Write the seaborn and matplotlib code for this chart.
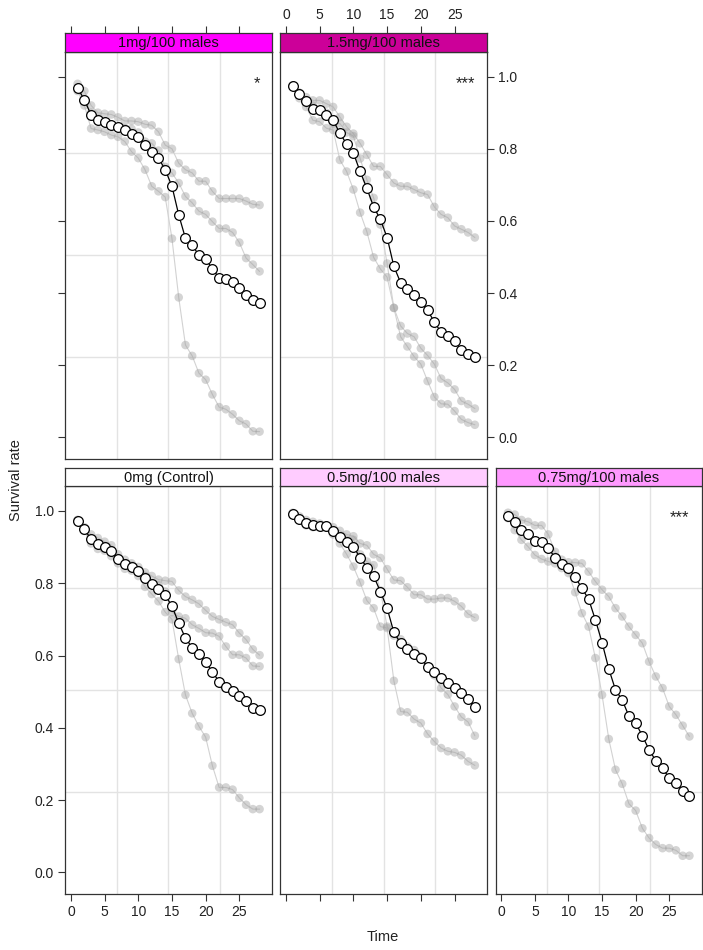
import numpy as np
import pandas as pd
import matplotlib
matplotlib.use('Agg')
import matplotlib.pyplot as plt
import seaborn as sns

sns.set_style('white')
plt.rcParams['font.family'] = ['Liberation Sans', 'DejaVu Sans']

time = list(range(1, 29))

# mean survival per treatment (white circles)
mean_0mg = [0.973, 0.949, 0.922, 0.909, 0.900, 0.889, 0.868, 0.853, 0.846, 0.834,
            0.814, 0.798, 0.784, 0.768, 0.736, 0.690, 0.648, 0.622, 0.604, 0.583,
            0.554, 0.528, 0.514, 0.502, 0.487, 0.473, 0.455, 0.448]
mean_05mg = [0.991, 0.978, 0.966, 0.961, 0.959, 0.959, 0.945, 0.929, 0.915, 0.901,
             0.871, 0.843, 0.820, 0.777, 0.731, 0.664, 0.634, 0.618, 0.605, 0.593,
             0.568, 0.554, 0.537, 0.525, 0.511, 0.496, 0.479, 0.457]
mean_075mg = [0.986, 0.970, 0.947, 0.936, 0.918, 0.913, 0.897, 0.871, 0.853, 0.842,
              0.817, 0.786, 0.756, 0.699, 0.636, 0.563, 0.505, 0.477, 0.432, 0.413,
              0.378, 0.339, 0.309, 0.288, 0.261, 0.247, 0.225, 0.210]
mean_1mg = [0.968, 0.936, 0.893, 0.879, 0.873, 0.865, 0.859, 0.852, 0.842, 0.832,
            0.810, 0.792, 0.774, 0.742, 0.696, 0.617, 0.552, 0.533, 0.505, 0.495,
            0.467, 0.442, 0.440, 0.431, 0.414, 0.394, 0.380, 0.373]
mean_15mg = [0.975, 0.951, 0.931, 0.911, 0.907, 0.893, 0.879, 0.843, 0.813, 0.788,
             0.737, 0.690, 0.639, 0.604, 0.554, 0.474, 0.429, 0.412, 0.396, 0.375,
             0.352, 0.320, 0.291, 0.282, 0.266, 0.243, 0.231, 0.223]

# replicate survival (grey points)
reps_0mg = [
    [0.975, 0.955, 0.935, 0.925, 0.915, 0.905, 0.880, 0.865, 0.855, 0.845,
     0.830, 0.820, 0.810, 0.807, 0.805, 0.780, 0.763, 0.754, 0.743, 0.725,
     0.708, 0.700, 0.692, 0.685, 0.662, 0.644, 0.617, 0.601],
    [0.970, 0.945, 0.920, 0.905, 0.895, 0.885, 0.870, 0.855, 0.850, 0.835,
     0.820, 0.800, 0.795, 0.777, 0.720, 0.708, 0.703, 0.685, 0.675, 0.663,
     0.662, 0.653, 0.625, 0.602, 0.602, 0.593, 0.571, 0.570],
    [0.975, 0.945, 0.910, 0.895, 0.890, 0.875, 0.855, 0.840, 0.835, 0.820,
     0.790, 0.770, 0.750, 0.720, 0.700, 0.590, 0.491, 0.440, 0.404, 0.374,
     0.295, 0.235, 0.235, 0.229, 0.206, 0.187, 0.175, 0.175],
]
reps_05mg = [
    [0.995, 0.985, 0.975, 0.970, 0.965, 0.960, 0.955, 0.945, 0.935, 0.930,
     0.910, 0.905, 0.880, 0.870, 0.839, 0.809, 0.807, 0.789, 0.768, 0.768,
     0.756, 0.756, 0.759, 0.759, 0.750, 0.736, 0.715, 0.705],
    [0.990, 0.975, 0.965, 0.960, 0.955, 0.955, 0.945, 0.930, 0.920, 0.920,
     0.880, 0.860, 0.850, 0.780, 0.680, 0.655, 0.645, 0.625, 0.615, 0.598,
     0.570, 0.545, 0.510, 0.492, 0.459, 0.430, 0.416, 0.378],
    [0.990, 0.975, 0.960, 0.955, 0.955, 0.955, 0.935, 0.910, 0.880, 0.846,
     0.802, 0.752, 0.731, 0.680, 0.676, 0.530, 0.445, 0.443, 0.424, 0.413,
     0.383, 0.362, 0.344, 0.335, 0.332, 0.324, 0.307, 0.296],
]
reps_075mg = [
    [0.995, 0.990, 0.975, 0.970, 0.960, 0.960, 0.935, 0.887, 0.865, 0.858,
     0.857, 0.855, 0.832, 0.805, 0.782, 0.763, 0.731, 0.708, 0.680, 0.657,
     0.634, 0.583, 0.542, 0.510, 0.459, 0.436, 0.406, 0.376],
    [0.980, 0.947, 0.920, 0.901, 0.878, 0.867, 0.860, 0.855, 0.842, 0.828,
     0.775, 0.717, 0.680, 0.593, 0.491, 0.369, 0.284, 0.245, 0.190, 0.171,
     0.122, 0.095, 0.077, 0.067, 0.067, 0.061, 0.046, 0.046],
]
reps_1mg = [
    [0.980, 0.960, 0.920, 0.900, 0.897, 0.895, 0.887, 0.877, 0.877, 0.875,
     0.868, 0.865, 0.847, 0.810, 0.800, 0.760, 0.742, 0.733, 0.710, 0.710,
     0.682, 0.662, 0.662, 0.662, 0.662, 0.655, 0.646, 0.644],
    [0.965, 0.930, 0.900, 0.885, 0.875, 0.865, 0.857, 0.857, 0.855, 0.845,
     0.820, 0.815, 0.795, 0.750, 0.733, 0.705, 0.668, 0.650, 0.627, 0.618,
     0.598, 0.579, 0.579, 0.568, 0.540, 0.497, 0.479, 0.460],
    [0.960, 0.920, 0.856, 0.852, 0.847, 0.838, 0.833, 0.820, 0.792, 0.774,
     0.742, 0.696, 0.682, 0.666, 0.551, 0.388, 0.256, 0.226, 0.178, 0.160,
     0.119, 0.084, 0.078, 0.064, 0.046, 0.037, 0.017, 0.016],
]
reps_15mg = [
    [0.975, 0.955, 0.943, 0.934, 0.934, 0.925, 0.916, 0.888, 0.861, 0.842,
     0.815, 0.783, 0.751, 0.751, 0.728, 0.705, 0.696, 0.696, 0.687, 0.678,
     0.673, 0.639, 0.618, 0.609, 0.586, 0.577, 0.568, 0.554],
    [0.975, 0.940, 0.916, 0.879, 0.875, 0.857, 0.852, 0.769, 0.737, 0.687,
     0.623, 0.570, 0.499, 0.467, 0.444, 0.359, 0.309, 0.288, 0.279, 0.247,
     0.227, 0.203, 0.163, 0.151, 0.133, 0.101, 0.092, 0.080],
    [0.975, 0.955, 0.935, 0.920, 0.905, 0.900, 0.870, 0.870, 0.845, 0.835,
     0.773, 0.714, 0.664, 0.590, 0.482, 0.359, 0.279, 0.252, 0.224, 0.203,
     0.156, 0.112, 0.093, 0.092, 0.073, 0.050, 0.041, 0.035],
]

W, H = 703, 950
fig = plt.figure(figsize=(W / 100, H / 100), dpi=100)

XLIM = (-0.83, 29.8)
YLIM = (-0.059, 1.069)
cols = [(65.3, 271.7), (280.3, 487.0), (495.7, 701.5)]
rows = [(33.3, 51.7, 458.7), (468.3, 486.0, 893.7)]  # strip top, data top, data bottom

# title, mean, reps, strip colour, stars, row, col
panels = [
    ('1mg/100 males', mean_1mg, reps_1mg, '#ff00ff', '*', 0, 0),
    ('1.5mg/100 males', mean_15mg, reps_15mg, '#cc0099', '***', 0, 1),
    ('0mg (Control)', mean_0mg, reps_0mg, '#ffffff', '', 1, 0),
    ('0.5mg/100 males', mean_05mg, reps_05mg, '#ffccff', '', 1, 1),
    ('0.75mg/100 males', mean_075mg, reps_075mg, '#ff99ff', '***', 1, 2),
]

edge = '#333333'


def frac(x0, x1, ytop, ybot):
    return [x0 / W, 1 - ybot / H, (x1 - x0) / W, (ybot - ytop) / H]


for title, mean, reps, scol, star, r, c in panels:
    x0, x1 = cols[c]
    st, dt, db = rows[r]
    ax = fig.add_axes(frac(x0, x1, dt, db))
    sax = fig.add_axes(frac(x0, x1, st, dt))

    rows_ = []
    for i, rep in enumerate(reps):
        for t, s in zip(time, rep):
            rows_.append((t, s, i))
    rep_df = pd.DataFrame(rows_, columns=['time', 'survival', 'rep'])

    # reference lines at quarter points of the panel
    for q in (0.25, 0.5, 0.75):
        ax.axvline(XLIM[0] + q * (XLIM[1] - XLIM[0]), color='#e3e3e3', lw=1, zorder=0)
        ax.axhline(YLIM[0] + q * (YLIM[1] - YLIM[0]), color='#e3e3e3', lw=1, zorder=0)

    sns.lineplot(data=rep_df, x='time', y='survival', units='rep', estimator=None,
                 color='#d2d2d2', lw=0.8, ax=ax, legend=False, zorder=1)
    sns.scatterplot(data=rep_df, x='time', y='survival', color='#a0a0a0', alpha=0.45,
                    s=38, edgecolor='none', ax=ax, legend=False, zorder=2)
    sns.lineplot(x=time, y=mean, color='black', lw=0.9, marker='o', markersize=7,
                 markerfacecolor='white', markeredgecolor='black', markeredgewidth=0.9,
                 ax=ax, zorder=3)

    ax.set_xlim(XLIM)
    ax.set_ylim(YLIM)
    ax.set_xlabel('')
    ax.set_ylabel('')
    ax.set_xticks(range(0, 30, 5))
    ax.set_yticks([0, 0.2, 0.4, 0.6, 0.8, 1.0])
    ax.set_yticklabels(['0.0', '0.2', '0.4', '0.6', '0.8', '1.0'])
    for sp in ax.spines.values():
        sp.set_color(edge)
        sp.set_linewidth(0.9)
    ax.tick_params(direction='out', length=5, width=0.8, color=edge,
                   labelcolor='#222222', labelsize=10, pad=3,
                   bottom=(r == 1), labelbottom=(r == 1 and c != 1),
                   left=(c == 0), labelleft=(r == 1 and c == 0),
                   right=(r == 0 and c == 1), labelright=(r == 0 and c == 1),
                   top=False, labeltop=False)

    if star:
        ax.text(0.93 if star == '*' else 0.895, 0.922, star, transform=ax.transAxes,
                ha='center', va='center', fontsize=12, color='#222222')

    sax.set_facecolor(scol)
    sax.set_xlim(XLIM)
    sax.set_xticks(range(0, 30, 5))
    sax.set_yticks([])
    for sp in sax.spines.values():
        sp.set_color(edge)
        sp.set_linewidth(0.9)
    sax.tick_params(direction='out', length=5, width=0.8, color=edge,
                    labelcolor='#222222', labelsize=10, pad=3,
                    bottom=False, labelbottom=False, left=False, labelleft=False,
                    top=(r == 0), labeltop=(r == 0 and c == 1))
    sax.text(0.5, 0.48, title, transform=sax.transAxes, ha='center', va='center',
             fontsize=10.5, color='#111111')

fig.text(16 / W, 1 - 480 / H, 'Survival rate', rotation=90, ha='center',
         va='center', fontsize=10.5, color='#222222')
fig.text(383 / W, 1 - 937 / H, 'Time', ha='center', va='center',
         fontsize=10.5, color='#222222')

fig.savefig('out.png', dpi=100)
